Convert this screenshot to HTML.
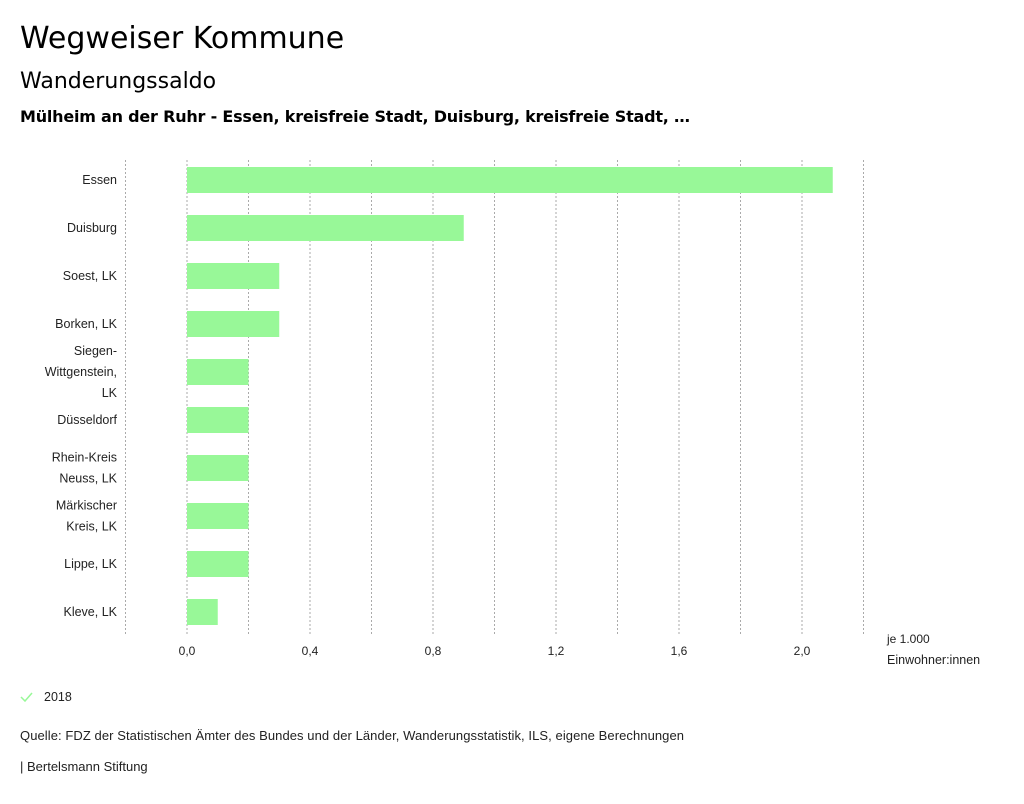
<!DOCTYPE html>
<html><head><meta charset="utf-8"><style>
body{margin:0;width:1024px;height:799px;background:#fff;font-family:"Liberation Sans",sans-serif;color:#000;overflow:hidden}
</style></head><body>
<svg width="1024" height="799" xmlns="http://www.w3.org/2000/svg" id="chart" font-family="Liberation Sans, sans-serif">
<text x="20" y="48" font-size="30" font-family="DejaVu Sans, sans-serif">Wegweiser Kommune</text>
<text x="20" y="88" font-size="22" font-family="DejaVu Sans, sans-serif">Wanderungssaldo</text>
<text x="20" y="122" font-size="16" font-weight="bold" font-family="DejaVu Sans, sans-serif" textLength="670">Mülheim an der Ruhr - Essen, kreisfreie Stadt, Duisburg, kreisfreie Stadt, …</text>
<g id="grid"></g><g id="bars"></g><g id="ylabels"></g><g id="xlabels"></g>
<text x="887" y="643" font-size="12" fill="#222">je 1.000</text>
<text x="887" y="664" font-size="12.5" fill="#222">Einwohner:innen</text>
<g><path d="M21 697 L25 701 L32 693" stroke="#98f898" stroke-width="1.5" fill="none"/><text x="44" y="701" font-size="12.5" fill="#222">2018</text></g>
<text x="20" y="740" font-size="13" fill="#222" textLength="664">Quelle: FDZ der Statistischen Ämter des Bundes und der Länder, Wanderungsstatistik, ILS, eigene Berechnungen</text>
<text x="20" y="771" font-size="13" fill="#222">| Bertelsmann Stiftung</text>
</svg>
<script>
const categories=[["Essen"],["Duisburg"],["Soest, LK"],["Borken, LK"],["Siegen-","Wittgenstein,","LK"],["Düsseldorf"],["Rhein-Kreis","Neuss, LK"],["Märkischer","Kreis, LK"],["Lippe, LK"],["Kleve, LK"]];
const values=[2.1,0.9,0.3,0.3,0.2,0.2,0.2,0.2,0.2,0.1];
const gridTicks=[-0.2,0,0.2,0.4,0.6,0.8,1.0,1.2,1.4,1.6,1.8,2.0,2.2];
const tickLabels=[0,0.4,0.8,1.2,1.6,2.0];
const NS="http://www.w3.org/2000/svg";
const x=v=>187+v*307.5;
const yc=i=>180+i*48;
function mk(t,a,p){const e=document.createElementNS(NS,t);for(const k in a)e.setAttribute(k,a[k]);document.getElementById(p).appendChild(e);return e;}
gridTicks.forEach(t=>{const l=mk('line',{x1:x(t),x2:x(t),y1:160,y2:635,stroke:'#aaa','stroke-dasharray':'2,2','stroke-width':1},'grid');

});
tickLabels.forEach(t=>{const e=mk('text',{x:x(t),y:655,'font-size':12,'text-anchor':'middle',fill:'#222'},'xlabels');e.textContent=t.toFixed(1).replace('.',',');

});
values.forEach((v,i)=>{const r=mk('rect',{x:x(0),y:yc(i)-13,width:x(v)-x(0),height:26,fill:'#98f898'},'bars');


const lines=categories[i];const t=mk('text',{'font-size':12.5,'text-anchor':'end',fill:'#222'},'ylabels');


lines.forEach((s,j)=>{const ts=document.createElementNS(NS,'tspan');ts.setAttribute('x',117);ts.setAttribute('y',yc(i)+4+(j-(lines.length-1)/2)*21);ts.textContent=s;t.appendChild(ts);});});
</script>
</body></html>
